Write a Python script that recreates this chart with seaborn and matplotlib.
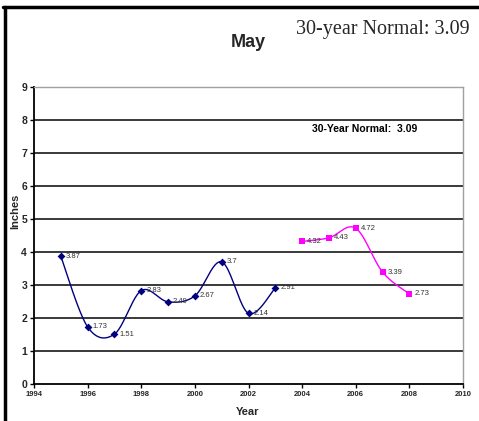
import numpy as np
import pandas as pd
import matplotlib
matplotlib.use("Agg")
import matplotlib.pyplot as plt
from matplotlib.lines import Line2D
import seaborn as sns

# ---- data ----
years_a = [1995, 1996, 1997, 1998, 1999, 2000, 2001, 2002, 2003]
vals_a = [3.87, 1.73, 1.51, 2.83, 2.49, 2.67, 3.7, 2.14, 2.91]
years_b = [2004, 2005, 2006, 2007, 2008]
vals_b = [4.32, 4.43, 4.72, 3.39, 2.73]
x_ticks = [1994, 1996, 1998, 2000, 2002, 2004, 2006, 2008, 2010]
y_ticks = [0, 1, 2, 3, 4, 5, 6, 7, 8, 9]
title = "May"
normal_header = "30-year Normal: 3.09"
normal_inner = "30-Year Normal:  3.09"
normal_inner_pos = (2008.3, 7.72)


def smooth(xs, ys, n=40):
    """Excel-style smoothed line (Catmull-Rom Bezier)."""
    P = np.column_stack([xs, ys]).astype(float)
    E = np.vstack([P[0], P, P[-1]])
    out = []
    t = np.linspace(0, 1, n)[:, None]
    for i in range(len(P) - 1):
        p0, p1, p2, p3 = E[i], E[i + 1], E[i + 2], E[i + 3]
        b1 = p1 + (p2 - p0) / 6.0
        b2 = p2 - (p3 - p1) / 6.0
        seg = (1 - t) ** 3 * p1 + 3 * (1 - t) ** 2 * t * b1 + 3 * (1 - t) * t ** 2 * b2 + t ** 3 * p2
        out.append(seg if i == 0 else seg[1:])
    return np.vstack(out)


sns.set_style("white")
plt.rcParams['font.family'] = ['Liberation Sans', 'DejaVu Sans']

W, H = 479, 421
fig = plt.figure(figsize=(W / 100, H / 100), dpi=100)
ax = fig.add_axes([34 / W, 1 - 384 / H, (463 - 34) / W, (384 - 87) / H])

# gridlines
for yv in y_ticks[1:-1]:
    ax.axhline(yv, color='#2a2a2a', lw=1.3, zorder=1)

navy = '#000080'
mag = '#FF00FF'
for xs, ys, col, mk, sz in [(years_a, vals_a, navy, 'D', 16), (years_b, vals_b, mag, 's', 24)]:
    curve = smooth(xs, ys)
    cdf = pd.DataFrame({'x': curve[:, 0], 'y': curve[:, 1]})
    sns.lineplot(data=cdf, x='x', y='y', sort=False, estimator=None, color=col, lw=1.0, ax=ax, zorder=3)
    pdf = pd.DataFrame({'x': xs, 'y': ys})
    sns.scatterplot(data=pdf, x='x', y='y', marker=mk, s=sz, color=col, edgecolor=col, linewidth=0, ax=ax, zorder=4)
    for xv, yv in zip(xs, ys):
        ax.annotate(f"{yv:g}", (xv, yv), xytext=(3.5, 0), textcoords='offset points',
                    va='center', ha='left', fontsize=5.5, color='#333333', zorder=5)

ax.set_xlim(x_ticks[0], x_ticks[-1])
ax.set_ylim(y_ticks[0], y_ticks[-1])
ax.set_xticks(x_ticks)
ax.set_yticks(y_ticks)
ax.set_xticklabels([str(v) for v in x_ticks], fontsize=5.5, fontweight='bold')
ax.set_yticklabels([str(v) for v in y_ticks], fontsize=7.5, fontweight='bold')
ax.tick_params(axis='both', direction='out', length=3, width=1, color='black', pad=2, bottom=True, left=True)
ax.set_xlabel('')
ax.set_ylabel('')

for s in ['left', 'bottom']:
    ax.spines[s].set_color('black')
    ax.spines[s].set_linewidth(1.3)
for s in ['top', 'right']:
    ax.spines[s].set_color('#a0a0a0')
    ax.spines[s].set_linewidth(1.0)

ax.text(normal_inner_pos[0], normal_inner_pos[1], normal_inner, ha='right', va='center',
        fontsize=7.5, fontweight='bold', color='black')

fig.text(248 / W, 1 - 47 / H, title, ha='center', va='baseline', fontsize=13, fontweight='bold')
fig.text(470 / W, 1 - 34 / H, normal_header, ha='right', va='baseline', fontsize=14.5,
         family=['Liberation Serif', 'DejaVu Serif'])
fig.text(15 / W, 1 - 211 / H, 'Inches', rotation=90, ha='center', va='center', fontsize=8, fontweight='bold')
fig.text(248 / W, 1 - 412 / H, 'Year', ha='center', va='center', fontsize=8, fontweight='bold')

# figure border (left and top)
fig.add_artist(Line2D([4.5 / W, 4.5 / W], [0, 1 - 7 / H], transform=fig.transFigure, color='black', lw=2.5))
fig.add_artist(Line2D([3.3 / W, 1], [1 - 7 / H, 1 - 7 / H], transform=fig.transFigure, color='black', lw=2.5))

fig.savefig('out.png', dpi=100)
